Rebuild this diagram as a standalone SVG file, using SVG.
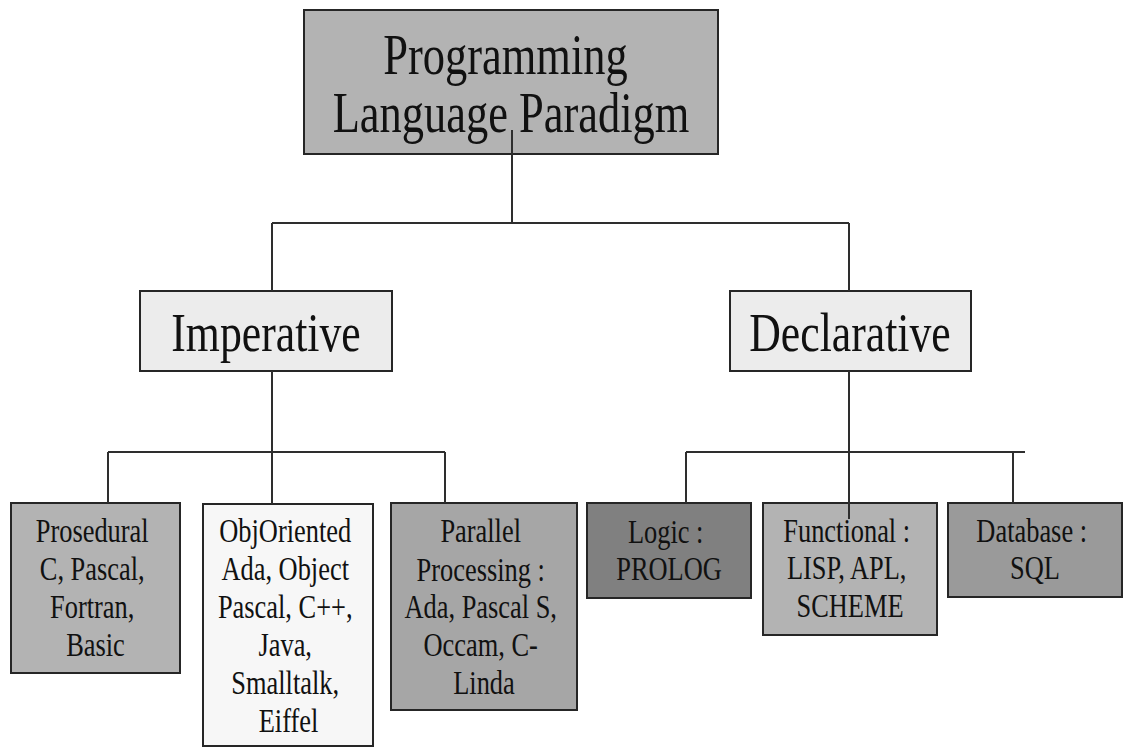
<svg xmlns="http://www.w3.org/2000/svg" width="1123" height="747" viewBox="0 0 1123 747">
  <style>
    .box { stroke: #262626; stroke-width: 2; }
    .lbl { fill: #111; text-anchor: middle; font-family: 'Times New Roman', 'Liberation Serif', Tinos, 'DejaVu Serif', 'Noto Serif', serif; }
    .big { font-size: 57px; }
    .mid { font-size: 54px; }
    .sm { font-size: 33px; }
    .wire { fill: none; stroke: #2e2e2e; stroke-width: 2; }
  </style>
  <rect width="1123" height="747" fill="#ffffff"/>

  <!-- root -->
  <g id="root">
    <rect class="box" x="304" y="10" width="414" height="144" fill="#b3b3b3"/>
    <text class="lbl big" transform="translate(511,0) scale(0.78,1)">
      <tspan x="0" y="74">Programming</tspan>
      <tspan x="0" y="132">Language Paradigm</tspan>
    </text>
  </g>

  <!-- second level -->
  <g id="imperative">
    <rect class="box" x="140" y="291" width="252" height="80" fill="#ececec"/>
    <text class="lbl mid" transform="translate(266,0) scale(0.81,1)"><tspan x="0" y="351">Imperative</tspan></text>
  </g>
  <g id="declarative">
    <rect class="box" x="730" y="291" width="241" height="80" fill="#ececec"/>
    <text class="lbl mid" transform="translate(850,0) scale(0.81,1)"><tspan x="0" y="351">Declarative</tspan></text>
  </g>

  <!-- imperative leaves -->
  <g id="procedural">
    <rect class="box" x="11" y="503" width="169" height="170" fill="#b3b3b3"/>
    <text class="lbl sm" transform="translate(95.5,0) scale(0.8,1)">
      <tspan x="0" y="542">Prosedural</tspan>
      <tspan x="0" y="580">C, Pascal,</tspan>
      <tspan x="0" y="618">Fortran,</tspan>
      <tspan x="0" y="656">Basic</tspan>
    </text>
  </g>
  <g id="object-oriented">
    <rect class="box" x="203" y="504" width="170" height="242" fill="#f7f7f7"/>
    <text class="lbl sm" transform="translate(288.5,0) scale(0.8,1)">
      <tspan x="0" y="542">ObjOriented</tspan>
      <tspan x="0" y="580">Ada, Object</tspan>
      <tspan x="0" y="618">Pascal, C++,</tspan>
      <tspan x="0" y="656">Java,</tspan>
      <tspan x="0" y="694">Smalltalk,</tspan>
      <tspan x="0" y="732">Eiffel</tspan>
    </text>
  </g>
  <g id="parallel">
    <rect class="box" x="391" y="503" width="186" height="207" fill="#a6a6a6"/>
    <text class="lbl sm" transform="translate(484,0) scale(0.8,1)">
      <tspan x="0" y="542">Parallel</tspan>
      <tspan x="0" y="581">Processing :</tspan>
      <tspan x="0" y="618">Ada, Pascal S,</tspan>
      <tspan x="0" y="656">Occam, C-</tspan>
      <tspan x="0" y="694">Linda</tspan>
    </text>
  </g>

  <!-- declarative leaves -->
  <g id="logic">
    <rect class="box" x="587" y="503" width="164" height="95" fill="#808080"/>
    <text class="lbl sm" transform="translate(669,0) scale(0.8,1)">
      <tspan x="0" y="543">Logic :</tspan>
      <tspan x="0" y="580">PROLOG</tspan>
    </text>
  </g>
  <g id="functional">
    <rect class="box" x="763" y="503" width="174" height="132" fill="#b3b3b3"/>
    <text class="lbl sm" transform="translate(850,0) scale(0.8,1)">
      <tspan x="0" y="542">Functional :</tspan>
      <tspan x="0" y="579">LISP, APL,</tspan>
      <tspan x="0" y="617">SCHEME</tspan>
    </text>
  </g>
  <g id="database">
    <rect class="box" x="948" y="503" width="174" height="94" fill="#9a9a9a"/>
    <text class="lbl sm" transform="translate(1035,0) scale(0.8,1)">
      <tspan x="0" y="542">Database :</tspan>
      <tspan x="0" y="579">SQL</tspan>
    </text>
  </g>

  <!-- connectors -->
  <g id="connectors">
    <path class="wire" d="M512 130 V223 M272 223 H849 M272 223 V291 M849 223 V291"/>
    <path class="wire" d="M272 371 V452 M108 452 H445 M108 452 V503 M272 452 V504 M445 452 V503"/>
    <path class="wire" d="M849 371 V519 M686 452 H1025 M686 452 V503 M1013 452 V503"/>
  </g>
</svg>
